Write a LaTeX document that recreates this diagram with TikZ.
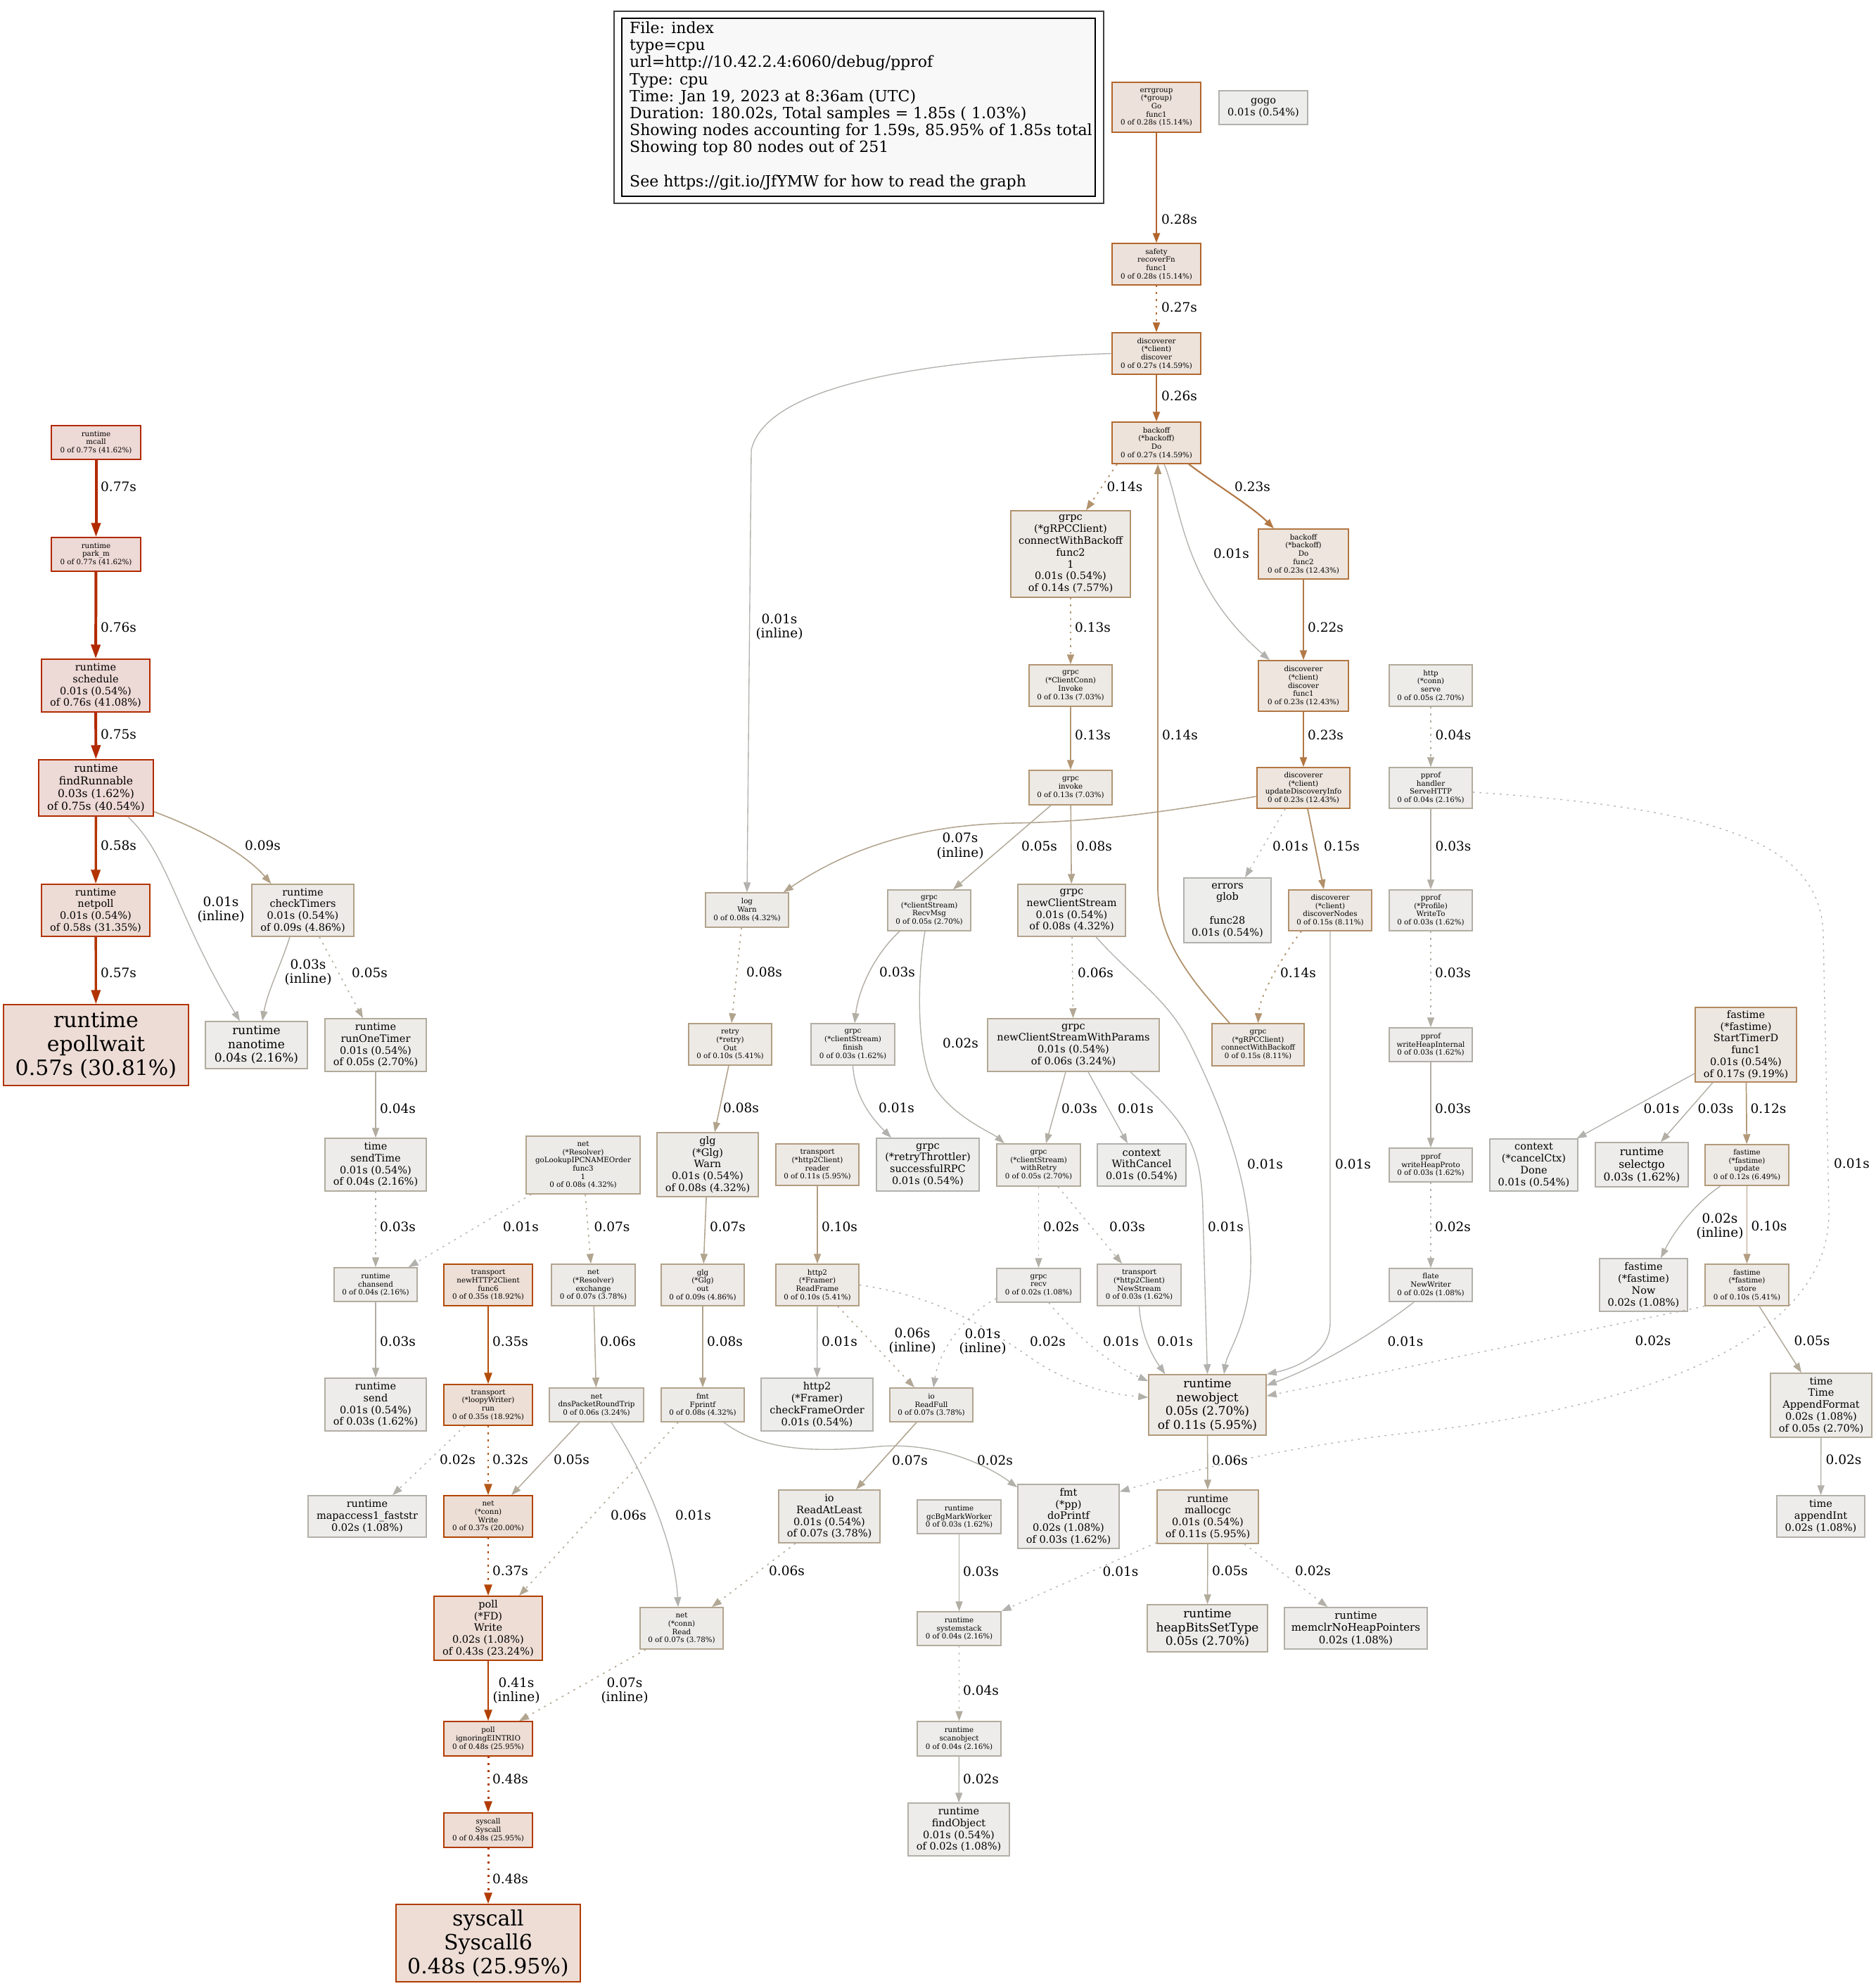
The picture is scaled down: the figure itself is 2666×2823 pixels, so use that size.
\documentclass[tikz,border=0pt]{standalone}
\usepackage{fontspec}
\setmainfont{DejaVu Serif}
\usetikzlibrary{arrows.meta}
\definecolor{c77}{HTML}{B22900}\definecolor{c76}{HTML}{B22A00}\definecolor{c75}{HTML}{B22A00}
\definecolor{c58}{HTML}{B23400}\definecolor{c57}{HTML}{B23500}\definecolor{c48}{HTML}{B23B00}
\definecolor{c43}{HTML}{B23F00}\definecolor{c41}{HTML}{B24000}\definecolor{c37}{HTML}{B24400}
\definecolor{c35}{HTML}{B24C09}\definecolor{c32}{HTML}{B25718}\definecolor{c28}{HTML}{B2652B}
\definecolor{c27}{HTML}{B26930}\definecolor{c26}{HTML}{B26C35}\definecolor{c23}{HTML}{B27743}
\definecolor{c22}{HTML}{B27A48}\definecolor{c17}{HTML}{B28A60}\definecolor{c15}{HTML}{B2906A}
\definecolor{c14}{HTML}{B2936E}\definecolor{c13}{HTML}{B29673}\definecolor{c12}{HTML}{B29978}
\definecolor{c11}{HTML}{B29B7D}\definecolor{c10}{HTML}{B29E82}\definecolor{c09}{HTML}{B2A187}
\definecolor{c08}{HTML}{B2A38C}\definecolor{c07}{HTML}{B2A590}\definecolor{c06}{HTML}{B2A895}
\definecolor{c05}{HTML}{B2AA9A}\definecolor{c04}{HTML}{B2AC9F}\definecolor{c03}{HTML}{B2AEA4}
\definecolor{c02}{HTML}{B2B0A8}\definecolor{c01}{HTML}{B2B1AD}
\definecolor{b77}{HTML}{EDD9D5}\definecolor{b58}{HTML}{EDDCD5}\definecolor{b48}{HTML}{EDDDD5}
\definecolor{b37}{HTML}{EDDED5}\definecolor{b35}{HTML}{EDDFD6}\definecolor{b28}{HTML}{EDE2DB}
\definecolor{b27}{HTML}{EDE3DB}\definecolor{b23}{HTML}{EDE5DE}\definecolor{b17}{HTML}{EDE7E2}
\definecolor{b15}{HTML}{EDE8E3}\definecolor{b14}{HTML}{EDE9E4}\definecolor{b12}{HTML}{EDE9E5}
\definecolor{b11}{HTML}{EDEAE6}\definecolor{b09}{HTML}{EDEAE7}\definecolor{b08}{HTML}{EDEBE8}
\definecolor{b06}{HTML}{EDEBE9}\definecolor{b05}{HTML}{EDECE9}\definecolor{b04}{HTML}{EDECEA}
\definecolor{b03}{HTML}{EDECEB}\definecolor{b01}{HTML}{EDEDEC}
\definecolor{legfill}{HTML}{F8F8F8}
\newcommand\mybigfont{\fontsize{30}{34}\selectfont}
\begin{document}
\begin{tikzpicture}[x=1pt,y=-1pt,
  nd/.style={draw, rectangle, inner sep=0pt, align=center, line width=1.5pt},
  ty/.style={nd, font=\fontsize{10.3}{11.7}\selectfont},
  md/.style={nd, font=\fontsize{14.5}{16.8}\selectfont},
  bx/.style 2 args={minimum width=#1pt, minimum height=#2pt},
  n77/.style={draw=c77,fill=b77}, n76/.style={draw=c76,fill=b77}, n75/.style={draw=c75,fill=b77},
  n58/.style={draw=c58,fill=b58}, n57/.style={draw=c57,fill=b58}, n48/.style={draw=c48,fill=b48},
  n43/.style={draw=c43,fill=b48}, n37/.style={draw=c37,fill=b37}, n35/.style={draw=c35,fill=b35},
  n28/.style={draw=c28,fill=b28}, n27/.style={draw=c27,fill=b27}, n23/.style={draw=c23,fill=b23},
  n17/.style={draw=c17,fill=b17}, n15/.style={draw=c15,fill=b15}, n14/.style={draw=c14,fill=b14},
  n13/.style={draw=c13,fill=b14}, n12/.style={draw=c12,fill=b12}, n11/.style={draw=c11,fill=b11},
  n10/.style={draw=c10,fill=b11}, n09/.style={draw=c09,fill=b09}, n08/.style={draw=c08,fill=b08},
  n07/.style={draw=c07,fill=b08}, n06/.style={draw=c06,fill=b06}, n05/.style={draw=c05,fill=b05},
  n04/.style={draw=c04,fill=b04}, n03/.style={draw=c03,fill=b03}, n02/.style={draw=c02,fill=b03},
  n01/.style={draw=c01,fill=b01},
  ed/.style={line width=#1pt, -{Triangle[length=14pt,width=10pt]}},
  ah2/.style={-{Triangle[length=16pt,width=11pt]}},
  ah3/.style={-{Triangle[length=20pt,width=13pt]}},
  dt/.style={dash pattern=on 2.6pt off 7pt},
  lbl/.style={font=\fontsize{18.5}{20.5}\selectfont, align=center, inner sep=0pt}
]
\useasboundingbox (0,0) rectangle (2666,2823);
\fill[white] (0,0) rectangle (2666,2823);

% legend
\draw[line width=1.6pt, draw=black!75] (873,16) rectangle (1569,289);
\node[draw=black, fill=legfill, line width=1.8pt, inner sep=0pt, minimum width=673pt, minimum height=253pt] (legend) at (1220.5,152.5) {};
\node[anchor=west, align=left, inner sep=0pt, font=\fontsize{22}{24.2}\selectfont] (legendtxt) at (895,150.5) {File: index\\type=cpu\\url=http://10.42.2.4:6060/debug/pprof\\Type: cpu\\Time: Jan 19, 2023 at 8:36am (UTC)\\Duration: 180.02s, Total samples = 1.85s ( 1.03\%)\\Showing nodes accounting for 1.59s, 85.95\% of 1.85s total\\Showing top 80 nodes out of 251\\\mbox{}\\See https://git.io/JfYMW for how to read the graph};

% left column
\node[ty, n77, bx={127}{48}] (mcall) at (136.5,629) {runtime\\mcall\\0 of 0.77s (41.62\%)};
\node[ty, n77, bx={127}{48}] (parkm) at (136.5,788) {runtime\\park\_m\\0 of 0.77s (41.62\%)};
\node[md, n76, bx={154}{75}] (schedule) at (136,974.5) {runtime\\schedule\\0.01s (0.54\%)\\of 0.76s (41.08\%)};
\node[md, n75, bx={163}{80}, font=\fontsize{15.5}{18}\selectfont] (findRunnable) at (136.5,1120) {runtime\\findRunnable\\0.03s (1.62\%)\\of 0.75s (40.54\%)};
\node[md, n58, bx={154}{74}] (netpoll) at (136,1294) {runtime\\netpoll\\0.01s (0.54\%)\\of 0.58s (31.35\%)};
\node[md, n09, bx={145}{74}] (checkTimers) at (430.5,1294) {runtime\\checkTimers\\0.01s (0.54\%)\\of 0.09s (4.86\%)};
\node[nd, n57, bx={263}{115}, font=\mybigfont] (epollwait) at (136.5,1485.5) {runtime\\epollwait\\0.57s (30.81\%)};
\node[nd, n04, bx={145}{67}, font=\fontsize{17}{19.5}\selectfont] (nanotime) at (364.5,1485.5) {runtime\\nanotime\\0.04s (2.16\%)};
\node[md, n05, bx={144}{75}] (runOneTimer) at (534,1485.5) {runtime\\runOneTimer\\0.01s (0.54\%)\\of 0.05s (2.70\%)};
\node[md, n04, bx={144}{75}] (sendTime) at (534,1655.5) {time\\sendTime\\0.01s (0.54\%)\\of 0.04s (2.16\%)};
\node[ty, n04, bx={118}{48}] (chansend) at (534,1826) {runtime\\chansend\\0 of 0.04s (2.16\%)};
\node[md, n03, bx={144}{75}] (rtSend) at (534,1996.5) {runtime\\send\\0.01s (0.54\%)\\of 0.03s (1.62\%)};
\node[md, n02, bx={168}{59}] (mapaccess) at (522,2155.5) {runtime\\mapaccess1\_faststr\\0.02s (1.08\%)};
\node[ty, n08, bx={162}{82}] (goLookup) at (829,1656) {net\\(*Resolver)\\goLookupIPCNAMEOrder\\func3\\1\\0 of 0.08s (4.32\%)};
\node[ty, n35, bx={126}{59}] (newHTTP2) at (694,1826.5) {transport\\newHTTP2Client\\func6\\0 of 0.35s (18.92\%)};
\node[ty, n07, bx={119}{59}] (exchange) at (843.5,1826.5) {net\\(*Resolver)\\exchange\\0 of 0.07s (3.78\%)};
\node[ty, n35, bx={126}{58}] (loopy) at (694,1997) {transport\\(*loopyWriter)\\run\\0 of 0.35s (18.92\%)};
\node[ty, n06, bx={134}{48}] (dnsRT) at (848,1997) {net\\dnsPacketRoundTrip\\0 of 0.06s (3.24\%)};
\node[ty, n37, bx={126}{59}] (connWrite) at (694,2155.5) {net\\(*conn)\\Write\\0 of 0.37s (20.00\%)};
\node[md, n43, bx={154}{91}] (pollWrite) at (694,2314.5) {poll\\(*FD)\\Write\\0.02s (1.08\%)\\of 0.43s (23.24\%)};
\node[ty, n07, bx={118}{59}] (connRead) at (969,2314.5) {net\\(*conn)\\Read\\0 of 0.07s (3.78\%)};
\node[ty, n48, bx={126}{49}] (ignoringEINTR) at (694,2471.5) {poll\\ignoringEINTRIO\\0 of 0.48s (25.95\%)};
\node[ty, n48, bx={126}{49}] (syscallSyscall) at (694,2601.5) {syscall\\Syscall\\0 of 0.48s (25.95\%)};
\node[nd, n48, bx={262}{110}, font=\mybigfont] (syscall6) at (694,2762) {syscall\\Syscall6\\0.48s (25.95\%)};

% top / middle
\node[ty, n28, bx={126}{71}] (errgroup) at (1644,152.5) {errgroup\\(*group)\\Go\\func1\\0 of 0.28s (15.14\%)};
\node[md, n01, bx={126}{48}] (gogo) at (1796,153) {gogo\\0.01s (0.54\%)};
\node[ty, n28, bx={126}{59}] (safety) at (1644,375.5) {safety\\recoverFn\\func1\\0 of 0.28s (15.14\%)};
\node[ty, n27, bx={126}{59}] (discover) at (1644,502.5) {discoverer\\(*client)\\discover\\0 of 0.27s (14.59\%)};
\node[ty, n27, bx={126}{59}] (backoffDo) at (1644,629.5) {backoff\\(*backoff)\\Do\\0 of 0.27s (14.59\%)};
\node[md, n14, bx={170}{123}] (cwbf2) at (1522,787.5) {grpc\\(*gRPCClient)\\connectWithBackoff\\func2\\1\\0.01s (0.54\%)\\of 0.14s (7.57\%)};
\node[ty, n23, bx={128}{71}] (bofunc2) at (1853,787.5) {backoff\\(*backoff)\\Do\\func2\\0 of 0.23s (12.43\%)};
\node[ty, n23, bx={128}{72}] (discfunc1) at (1853,975) {discoverer\\(*client)\\discover\\func1\\0 of 0.23s (12.43\%)};
\node[ty, n13, bx={118}{59}] (ccInvoke) at (1522,974.5) {grpc\\(*ClientConn)\\Invoke\\0 of 0.13s (7.03\%)};
\node[ty, n13, bx={118}{49}] (grpcinvoke) at (1522,1119.5) {grpc\\invoke\\0 of 0.13s (7.03\%)};
\node[ty, n23, bx={132}{58}] (udi) at (1853,1120) {discoverer\\(*client)\\updateDiscoveryInfo\\0 of 0.23s (12.43\%)};
\node[ty, n05, bx={118}{59}] (httpserve) at (2034,974.5) {http\\(*conn)\\serve\\0 of 0.05s (2.70\%)};
\node[ty, n04, bx={118}{58}] (serveHTTP) at (2034,1120) {pprof\\handler\\ServeHTTP\\0 of 0.04s (2.16\%)};
\node[ty, n08, bx={118}{49}] (logWarn) at (1062,1293.5) {log\\Warn\\0 of 0.08s (4.32\%)};
\node[ty, n05, bx={118}{58}] (recvMsg) at (1321,1294) {grpc\\(*clientStream)\\RecvMsg\\0 of 0.05s (2.70\%)};
\node[md, n08, bx={153}{74}] (newCS) at (1523.5,1294) {grpc\\newClientStream\\0.01s (0.54\%)\\of 0.08s (4.32\%)};
\node[md, n01, bx={124}{92}] (glob) at (1745,1294) {errors\\glob\\\mbox{}\\func28\\0.01s (0.54\%)};
\node[ty, n15, bx={118}{58}] (discNodes) at (1891,1294) {discoverer\\(*client)\\discoverNodes\\0 of 0.15s (8.11\%)};
\node[ty, n03, bx={118}{58}] (writeTo) at (2034,1294) {pprof\\(*Profile)\\WriteTo\\0 of 0.03s (1.62\%)};
\node[ty, n10, bx={118}{59}] (retryOut) at (1038,1484.5) {retry\\(*retry)\\Out\\0 of 0.10s (5.41\%)};
\node[ty, n03, bx={119}{59}] (csFinish) at (1212.5,1484.5) {grpc\\(*clientStream)\\finish\\0 of 0.03s (1.62\%)};
\node[md, n06, bx={244}{75}] (ncsParams) at (1526,1485.5) {grpc\\newClientStreamWithParams\\0.01s (0.54\%)\\of 0.06s (3.24\%)};
\node[ty, n15, bx={131}{60}] (gcwb) at (1788.5,1485) {grpc\\(*gRPCClient)\\connectWithBackoff\\0 of 0.15s (8.11\%)};
\node[ty, n03, bx={118}{48}] (writeHeapInternal) at (2034,1485) {pprof\\writeHeapInternal\\0 of 0.03s (1.62\%)};
\node[md, n17, bx={144}{106}] (startTimerD) at (2482,1485) {fastime\\(*fastime)\\StartTimerD\\func1\\0.01s (0.54\%)\\of 0.17s (9.19\%)};
\node[md, n08, bx={144}{91}] (glgWarn) at (1006,1655.5) {glg\\(*Glg)\\Warn\\0.01s (0.54\%)\\of 0.08s (4.32\%)};
\node[ty, n11, bx={118}{59}] (reader) at (1162,1655.5) {transport\\(*http2Client)\\reader\\0 of 0.11s (5.95\%)};
\node[md, n01, bx={146}{75}] (retryThrottler) at (1319,1655.5) {grpc\\(*retryThrottler)\\successfulRPC\\0.01s (0.54\%)};
\node[ty, n05, bx={119}{60}] (withRetry) at (1476.5,1656) {grpc\\(*clientStream)\\withRetry\\0 of 0.05s (2.70\%)};
\node[md, n01, bx={126}{60}] (withCancel) at (1623,1656) {context\\WithCancel\\0.01s (0.54\%)};
\node[ty, n03, bx={118}{48}] (writeHeapProto) at (2034,1656) {pprof\\writeHeapProto\\0 of 0.03s (1.62\%)};
\node[md, n01, bx={125}{74}] (cancelDone) at (2180.5,1656) {context\\(*cancelCtx)\\Done\\0.01s (0.54\%)};
\node[nd, n03, bx={132}{63}, font=\fontsize{15.5}{18}\selectfont] (selectgo) at (2334,1655.5) {runtime\\selectgo\\0.03s (1.62\%)};
\node[ty, n12, bx={119}{58}] (fastUpdate) at (2483.5,1656) {fastime\\(*fastime)\\update\\0 of 0.12s (6.49\%)};
\node[ty, n09, bx={118}{59}] (glgOut) at (999,1826.5) {glg\\(*Glg)\\out\\0 of 0.09s (4.86\%)};
\node[ty, n10, bx={118}{59}] (readFrame) at (1162,1826.5) {http2\\(*Framer)\\ReadFrame\\0 of 0.10s (5.41\%)};
\node[ty, n02, bx={119}{48}] (grpcRecv) at (1476.5,1827) {grpc\\recv\\0 of 0.02s (1.08\%)};
\node[ty, n03, bx={119}{59}] (newStream) at (1619.5,1826.5) {transport\\(*http2Client)\\NewStream\\0 of 0.03s (1.62\%)};
\node[ty, n02, bx={118}{47}] (flate) at (2034,1826.5) {flate\\NewWriter\\0 of 0.02s (1.08\%)};
\node[md, n02, bx={125}{75}] (fastNow) at (2336.5,1826.5) {fastime\\(*fastime)\\Now\\0.02s (1.08\%)};
\node[ty, n10, bx={119}{59}] (fastStore) at (2483.5,1826.5) {fastime\\(*fastime)\\store\\0 of 0.10s (5.41\%)};
\node[ty, n08, bx={118}{48}] (fprintf) at (999,1997) {fmt\\Fprintf\\0 of 0.08s (4.32\%)};
\node[md, n01, bx={159}{75}] (checkFO) at (1161.5,1996.5) {http2\\(*Framer)\\checkFrameOrder\\0.01s (0.54\%)};
\node[ty, n07, bx={118}{48}] (readFull) at (1324,1997) {io\\ReadFull\\0 of 0.07s (3.78\%)};
\node[nd, n11, bx={167}{86}, font=\fontsize{17}{19.5}\selectfont] (newobject) at (1716.5,1997) {runtime\\newobject\\0.05s (2.70\%)\\of 0.11s (5.95\%)};
\node[md, n05, bx={144}{91}] (appendFormat) at (2589,1997.5) {time\\Time\\AppendFormat\\0.02s (1.08\%)\\of 0.05s (2.70\%)};
\node[md, n07, bx={144}{75}] (readAtLeast) at (1179,2155.5) {io\\ReadAtLeast\\0.01s (0.54\%)\\of 0.07s (3.78\%)};
\node[ty, n03, bx={119}{48}] (gcBg) at (1363.5,2156) {runtime\\gcBgMarkWorker\\0 of 0.03s (1.62\%)};
\node[md, n03, bx={144}{91}] (doPrintf) at (1519,2155.5) {fmt\\(*pp)\\doPrintf\\0.02s (1.08\%)\\of 0.03s (1.62\%)};
\node[md, n11, bx={144}{76}] (mallocgc) at (1717,2156) {runtime\\mallocgc\\0.01s (0.54\%)\\of 0.11s (5.95\%)};
\node[md, n02, bx={125}{59}] (appendInt) at (2588.5,2155.5) {time\\appendInt\\0.02s (1.08\%)};
\node[ty, n04, bx={119}{48}] (systemstack) at (1363.5,2315) {runtime\\systemstack\\0 of 0.04s (2.16\%)};
\node[nd, n05, bx={171}{67}, font=\fontsize{17}{19.5}\selectfont] (heapBits) at (1716.5,2314.5) {runtime\\heapBitsSetType\\0.05s (2.70\%)};
\node[nd, n02, bx={203}{59}, font=\fontsize{15}{17.5}\selectfont] (memclr) at (1927.5,2314.5) {runtime\\memclrNoHeapPointers\\0.02s (1.08\%)};
\node[ty, n04, bx={119}{49}] (scanobject) at (1363.5,2471.5) {runtime\\scanobject\\0 of 0.04s (2.16\%)};
\node[md, n02, bx={144}{75}] (findObject) at (1363,2600.5) {runtime\\findObject\\0.01s (0.54\%)\\of 0.02s (1.08\%)};

% edges
\draw[ed=4,c77,ah3] (mcall) -- (parkm);
\draw[ed=3.97,c76,ah3] (parkm) -- (schedule);
\draw[ed=3.93,c75,ah3] (schedule) -- (findRunnable);
\draw[ed=3.34,c58,ah3] (findRunnable) -- (netpoll);
\draw[ed=3.3,c57,ah3] (netpoll) -- (epollwait);
\draw[ed=1.62,c09] ([yshift=7pt]findRunnable.south east) .. controls (290,1180) and (350,1215) .. ([xshift=-45pt]checkTimers.north);
\draw[ed=1.34,c01] ([xshift=45pt]findRunnable.south) .. controls (240,1215) and (250,1300) .. ([xshift=-23.5pt]nanotime.north);
\draw[ed=1.4,c03] ([xshift=-18.5pt]checkTimers.south) .. controls (400,1370) and (380,1410) .. ([xshift=8.5pt]nanotime.north);
\draw[ed=1.48,c05,dt] ([xshift=23.5pt]checkTimers.south) -- ([xshift=-18pt]runOneTimer.north);
\draw[ed=1.44,c04] (runOneTimer) -- (sendTime);
\draw[ed=1.4,c03,dt] (sendTime) -- (chansend);
\draw[ed=1.34,c01,dt] ([xshift=8pt]goLookup.south west) -- ([xshift=-13pt]chansend.north east);
\draw[ed=1.4,c03] (chansend) -- (rtSend);
\draw[ed=1.55,c07,dt] ([xshift=3pt]goLookup.south) -- ([xshift=-3.5pt]exchange.north);
\draw[ed=1.51,c06] (exchange) -- (dnsRT);
\draw[ed=2.53,c35,ah2] (newHTTP2) -- (loopy);
\draw[ed=1.37,c02,dt] ([xshift=-33pt]loopy.south) -- ([xshift=36pt]mapaccess.north);
\draw[ed=2.42,c32,dt,ah2] (loopy) -- (connWrite);
\draw[ed=1.48,c05] ([xshift=-24pt]dnsRT.south) -- ([xshift=33pt]connWrite.north);
\draw[ed=1.34,c01] ([xshift=21pt]dnsRT.south) .. controls (920,2100) and (960,2200) .. ([xshift=-5pt]connRead.north);
\draw[ed=1.51,c06,dt] ([xshift=-35pt]fprintf.south) -- ([xshift=44pt]pollWrite.north);
\draw[ed=2.6,c37,dt,ah2] (connWrite) -- (pollWrite);
\draw[ed=2.74,c41,ah2] (pollWrite) -- (ignoringEINTR);
\draw[ed=1.55,c07,dt] ([xshift=-51pt]connRead.south) -- ([xshift=44pt]ignoringEINTR.north);
\draw[ed=3,c48,dt,ah2] (ignoringEINTR) -- (syscallSyscall);
\draw[ed=3,c48,dt,ah2] (syscallSyscall) -- (syscall6);
\draw[ed=2.28,c28] (errgroup) -- (safety);
\draw[ed=2.25,c27,dt] (safety) -- (discover);
\draw[ed=2.21,c26] (discover) -- (backoffDo);
\draw[ed=1.34,c01] (discover.west) .. controls (1350,510) and (1090,540) .. (1068,640) -- (logWarn.north);
\draw[ed=1.79,c14,dt] ([xshift=-56pt]backoffDo.south) -- ([xshift=22pt]cwbf2.north);
\draw[ed=2.1,c23] ([xshift=46pt]backoffDo.south) .. controls (1730,690) and (1780,720) .. ([xshift=-42pt]bofunc2.north);
\draw[ed=1.34,c01] ([xshift=11pt]backoffDo.south) .. controls (1680,720) and (1680,830) .. ([xshift=-48pt]discfunc1.north);
\draw[ed=2.07,c22] (bofunc2) -- (discfunc1);
\draw[ed=2.1,c23] (discfunc1) -- (udi);
\draw[ed=1.76,c13,dt] (cwbf2) -- (ccInvoke);
\draw[ed=1.76,c13] (ccInvoke) -- (grpcinvoke);
\draw[ed=1.48,c05] ([xshift=-28pt]grpcinvoke.south) -- ([xshift=34pt]recvMsg.north);
\draw[ed=1.58,c08] (grpcinvoke) -- (newCS);
\draw[ed=1.55,c07] ([yshift=-12pt]udi.west) .. controls (1650,1155) and (1560,1168) .. (1440,1170) .. controls (1300,1172) and (1200,1210) .. ([xshift=-8pt]logWarn.north east);
\draw[ed=1.34,c01,dt] ([xshift=-26pt]udi.south) -- ([xshift=25pt]glob.north);
\draw[ed=1.83,c15] ([xshift=6pt]udi.south) -- ([xshift=-9pt]discNodes.north);
\draw[ed=1.79,c14] ([xshift=-40.5pt]gcwb.north) .. controls (1700,1400) and (1646,1340) .. (1646,1260) -- ([xshift=2pt]backoffDo.south);
\draw[ed=1.79,c14,dt] ([xshift=-41pt]discNodes.south) .. controls (1815,1370) and (1790,1420) .. (gcwb.north);
\draw[ed=1.34,c01] (discNodes.south) -- (1891,1880) .. controls (1891,1925) and (1840,1945) .. (newobject.north east);
\draw[ed=1.34,c01] ([xshift=34.5pt]newCS.south) .. controls (1610,1390) and (1660,1420) .. (1690,1480) .. controls (1750,1600) and (1780,1700) .. (1778,1800) .. controls (1777,1880) and (1745,1920) .. ([xshift=23.5pt]newobject.north);
\draw[ed=1.34,c01] ([xshift=81pt]ncsParams.south) .. controls (1680,1590) and (1708,1620) .. (1710,1720) -- (newobject.north);
\draw[ed=1.34,c01] (newStream.south) .. controls (1622,1900) and (1640,1930) .. ([xshift=-60pt]newobject.north);
\draw[ed=1.34,c01,dt] ([xshift=14.5pt]grpcRecv.south) .. controls (1530,1900) and (1580,1940) .. ([yshift=-10pt]newobject.north west);
\draw[ed=1.37,c02,dt] (readFrame.east) .. controls (1350,1845) and (1420,1900) .. (1480,1940) .. controls (1530,1970) and (1580,1982) .. ([yshift=-33pt]newobject.north west);
\draw[ed=1.51,c06,dt] ([xshift=29pt]readFrame.south) -- ([xshift=-24pt]readFull.north);
\draw[ed=1.34,c01,dt] ([yshift=6pt]grpcRecv.south west) .. controls (1370,1870) and (1335,1920) .. ([xshift=3pt]readFull.north);
\draw[ed=1.34,c01] (readFrame) -- (checkFO);
\draw[ed=1.65,c10] (reader) -- (readFrame);
\draw[ed=1.55,c07] (glgWarn) -- (glgOut);
\draw[ed=1.58,c08] ([xshift=-2pt]retryOut.south) -- ([xshift=10pt]glgWarn.north);
\draw[ed=1.58,c08,dt] ([xshift=-8pt]logWarn.south) -- ([xshift=2pt]retryOut.north);
\draw[ed=1.58,c08] (glgOut) -- (fprintf);
\draw[ed=1.37,c02] ([xshift=30pt]fprintf.south) .. controls (1080,2060) and (1150,2066) .. (1250,2056) .. controls (1330,2050) and (1400,2080) .. ([yshift=-5pt]doPrintf.north west);
\draw[ed=1.55,c07] ([xshift=-21pt]readFull.south) -- ([xshift=38pt]readAtLeast.north);
\draw[ed=1.51,c06,dt] ([xshift=-48pt]readAtLeast.south) -- ([xshift=43pt]connRead.north);
\draw[ed=1.34,c01,dt] ([yshift=-6pt]serveHTTP.east) .. controls (2450,1150) and (2590,1200) .. (2592,1330) -- (2600,1720) .. controls (2604,1900) and (2350,2000) .. (2000,2037) .. controls (1800,2060) and (1680,2095) .. ([yshift=-11pt]doPrintf.north east);
\draw[ed=1.37,c02,dt] (fastStore.south west) -- ([yshift=-31pt]newobject.north east);
\draw[ed=1.34,c01] ([xshift=36pt]flate.south west) .. controls (1960,1890) and (1880,1940) .. ([yshift=-16pt]newobject.north east);
\draw[ed=1.51,c06] (newobject) -- (mallocgc);
\draw[ed=1.34,c01,dt] ([yshift=2pt]mallocgc.south west) -- (systemstack.north east);
\draw[ed=1.48,c05] (mallocgc) -- (heapBits);
\draw[ed=1.37,c02,dt] ([xshift=52pt]mallocgc.south) -- ([xshift=-40pt]memclr.north);
\draw[ed=1.4,c03] (gcBg) -- (systemstack);
\draw[ed=1.44,c04,dt] (systemstack) -- (scanobject);
\draw[ed=1.37,c02] (scanobject) -- (findObject);
\draw[ed=1.4,c03] ([xshift=-42pt]recvMsg.south) .. controls (1240,1360) and (1220,1410) .. ([xshift=2.5pt]csFinish.north);
\draw[ed=1.37,c02] ([xshift=-6pt]recvMsg.south) .. controls (1305,1380) and (1300,1500) .. (1330,1548) .. controls (1360,1590) and (1410,1610) .. ([xshift=-48.5pt]withRetry.north);
\draw[ed=1.34,c01] (csFinish.south) .. controls (1215,1560) and (1240,1590) .. ([xshift=-52pt]retryThrottler.north);
\draw[ed=1.51,c06,dt] (newCS) -- (ncsParams);
\draw[ed=1.4,c03] ([xshift=-11pt]ncsParams.south) -- ([xshift=10.5pt]withRetry.north);
\draw[ed=1.34,c01] ([xshift=21pt]ncsParams.south) -- ([xshift=-20pt]withCancel.north);
\draw[ed=1.37,c02,dt] (withRetry) -- (grpcRecv);
\draw[ed=1.4,c03,dt] ([xshift=27.5pt]withRetry.south) -- ([xshift=-24.5pt]newStream.north);
\draw[ed=1.44,c04,dt] (httpserve) -- (serveHTTP);
\draw[ed=1.4,c03] (serveHTTP) -- (writeTo);
\draw[ed=1.4,c03,dt] (writeTo) -- (writeHeapInternal);
\draw[ed=1.4,c03] (writeHeapInternal) -- (writeHeapProto);
\draw[ed=1.37,c02,dt] (writeHeapProto) -- (flate);
\draw[ed=1.34,c01] ([yshift=13pt]startTimerD.south west) -- ([xshift=61pt]cancelDone.north);
\draw[ed=1.4,c03] ([xshift=-47pt]startTimerD.south) -- ([xshift=27pt]selectgo.north);
\draw[ed=1.72,c12] (startTimerD) -- (fastUpdate);
\draw[ed=1.37,c02] ([xshift=-37.5pt]fastUpdate.south) .. controls (2410,1710) and (2380,1750) .. ([xshift=24.5pt]fastNow.north);
\draw[ed=1.65,c10] (fastUpdate) -- (fastStore);
\draw[ed=1.48,c05] ([xshift=17.5pt]fastStore.south) -- ([xshift=-28pt]appendFormat.north);
\draw[ed=1.37,c02] (appendFormat) -- (appendInt);

% edge labels
\node[lbl] (l1) at (168.5,692) {0.77s};
\node[lbl] (l2) at (168.5,892) {0.76s};
\node[lbl] (l3) at (168.5,1044) {0.75s};
\node[lbl] (l4) at (168.5,1202) {0.58s};
\node[lbl] (l5) at (168.5,1383) {0.57s};
\node[lbl] (l6) at (373.5,1202) {0.09s};
\node[lbl] (l7) at (314,1293) {0.01s\\(inline)};
\node[lbl] (l8) at (438,1382) {0.03s\\(inline)};
\node[lbl] (l9) at (525.5,1383) {0.05s};
\node[lbl] (l10) at (565.5,1576) {0.04s};
\node[lbl] (l11) at (565.5,1744) {0.03s};
\node[lbl] (l12) at (740.5,1744) {0.01s};
\node[lbl] (l13) at (565.5,1907) {0.03s};
\node[lbl] (l14) at (870,1744) {0.07s};
\node[lbl] (l15) at (878.5,1907) {0.06s};
\node[lbl] (l16) at (725.5,1907) {0.35s};
\node[lbl] (l17) at (650.5,2075) {0.02s};
\node[lbl] (l18) at (725.5,2075) {0.32s};
\node[lbl] (l19) at (812.5,2075) {0.05s};
\node[lbl] (l20) at (985.5,2154) {0.01s};
\node[lbl] (l21) at (893.5,2154) {0.06s};
\node[lbl] (l22) at (725.5,2233) {0.37s};
\node[lbl] (l23) at (734,2403) {0.41s\\(inline)};
\node[lbl] (l24) at (888,2403) {0.07s\\(inline)};
\node[lbl] (l25) at (725.5,2529) {0.48s};
\node[lbl] (l26) at (725.5,2671) {0.48s};
\node[lbl] (l27) at (1676.5,312) {0.28s};
\node[lbl] (l28) at (1676.5,437) {0.27s};
\node[lbl] (l29) at (1676.5,563) {0.26s};
\node[lbl] (l30) at (1108,891) {0.01s\\(inline)};
\node[lbl] (l31) at (1599,692) {0.14s};
\node[lbl] (l32) at (1780.5,692) {0.23s};
\node[lbl] (l33) at (1750.5,787) {0.01s};
\node[lbl] (l34) at (1884.5,892) {0.22s};
\node[lbl] (l35) at (1884.5,1045) {0.23s};
\node[lbl] (l36) at (1553.5,892) {0.13s};
\node[lbl] (l37) at (1553.5,1045) {0.13s};
\node[lbl] (l38) at (1477.5,1203) {0.05s};
\node[lbl] (l39) at (1555.5,1203) {0.08s};
\node[lbl] (l40) at (1365,1202.5) {0.07s\\(inline)};
\node[lbl] (l41) at (1834.5,1203) {0.01s};
\node[lbl] (l42) at (1907.5,1203) {0.15s};
\node[lbl] (l43) at (1677.5,1045) {0.14s};
\node[lbl] (l44) at (1845.5,1383) {0.14s};
\node[lbl] (l45) at (1923.5,1655) {0.01s};
\node[lbl] (l46) at (1798.5,1655) {0.01s};
\node[lbl] (l47) at (1742.5,1744) {0.01s};
\node[lbl] (l48) at (1670.5,1907) {0.01s};
\node[lbl] (l49) at (1593.5,1907) {0.01s};
\node[lbl] (l50) at (1489.5,1907) {0.02s};
\node[lbl] (l51) at (1297,1906) {0.06s\\(inline)};
\node[lbl] (l52) at (1397,1907) {0.01s\\(inline)};
\node[lbl] (l53) at (1193.5,1907) {0.01s};
\node[lbl] (l54) at (1193.5,1744) {0.10s};
\node[lbl] (l55) at (1034.5,1744) {0.07s};
\node[lbl] (l56) at (1053.5,1575) {0.08s};
\node[lbl] (l57) at (1086.5,1382) {0.08s};
\node[lbl] (l58) at (1030.5,1907) {0.08s};
\node[lbl] (l59) at (1414.5,2076) {0.02s};
\node[lbl] (l60) at (1293.5,2076) {0.07s};
\node[lbl] (l61) at (1118.5,2233) {0.06s};
\node[lbl] (l62) at (2632.5,1654) {0.01s};
\node[lbl] (l63) at (2350,1906) {0.02s};
\node[lbl] (l64) at (1998,1907) {0.01s};
\node[lbl] (l65) at (1748.5,2076) {0.06s};
\node[lbl] (l66) at (1593,2234) {0.01s};
\node[lbl] (l67) at (1748.5,2233) {0.05s};
\node[lbl] (l68) at (1866.5,2233) {0.02s};
\node[lbl] (l69) at (1394.5,2234) {0.03s};
\node[lbl] (l70) at (1394.5,2403) {0.04s};
\node[lbl] (l71) at (1394.5,2529) {0.02s};
\node[lbl] (l72) at (1275.5,1382) {0.03s};
\node[lbl] (l73) at (1365.5,1483) {0.02s};
\node[lbl] (l74) at (1274.5,1575) {0.01s};
\node[lbl] (l75) at (1557.5,1383) {0.06s};
\node[lbl] (l76) at (1534.5,1576) {0.03s};
\node[lbl] (l77) at (1614.5,1576) {0.01s};
\node[lbl] (l78) at (1508.5,1744) {0.02s};
\node[lbl] (l79) at (1602.5,1744) {0.03s};
\node[lbl] (l80) at (2066,1045) {0.04s};
\node[lbl] (l81) at (2066,1203) {0.03s};
\node[lbl] (l82) at (2065.5,1383) {0.03s};
\node[lbl] (l83) at (2065.5,1576) {0.03s};
\node[lbl] (l84) at (2065.5,1744) {0.02s};
\node[lbl] (l85) at (2362,1576) {0.01s};
\node[lbl] (l86) at (2439,1576) {0.03s};
\node[lbl] (l87) at (2514,1576) {0.12s};
\node[lbl] (l88) at (2445,1743) {0.02s\\(inline)};
\node[lbl] (l89) at (2515,1743) {0.10s};
\node[lbl] (l90) at (2576,1906) {0.05s};
\node[lbl] (l91) at (2621,2075) {0.02s};
\end{tikzpicture}
\end{document}
